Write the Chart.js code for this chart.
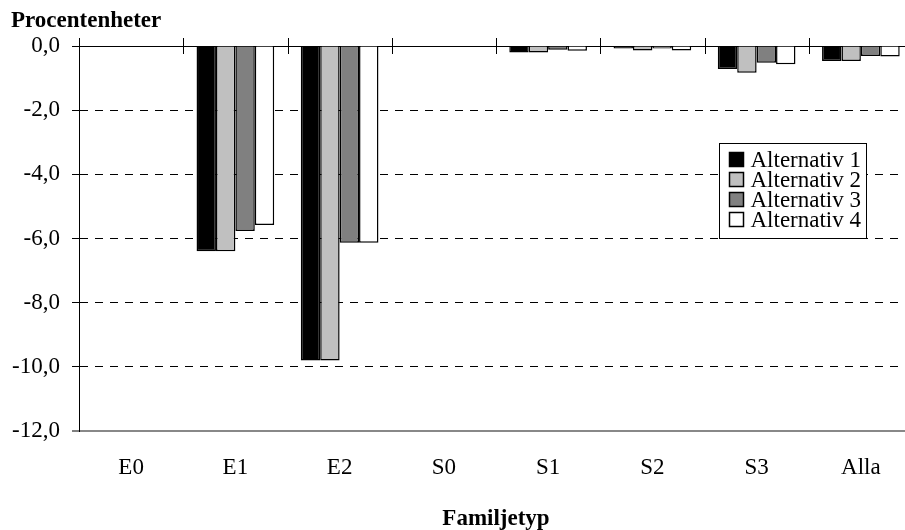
<!DOCTYPE html>
<html>
<head>
<meta charset="utf-8">
<script src="https://cdn.jsdelivr.net/npm/chart.js@4"></script>
<style>
  html, body { margin: 0; padding: 0; background: #fff; overflow: hidden; }
  #wrap { width: 913px; height: 530px; }
</style>
</head>
<body>
<div id="wrap"><canvas id="barChart"></canvas></div>
<script>
// familjetyper och värden (procentenheter)
var labels = ['E0', 'E1', 'E2', 'S0', 'S1', 'S2', 'S3', 'Alla'];
var seriesNames = ['Alternativ 1', 'Alternativ 2', 'Alternativ 3', 'Alternativ 4'];
var alt1 = [0, -6.4, -9.8, 0, -0.2, -0.08, -0.72, -0.47];
var alt2 = [0, -6.4, -9.8, 0, -0.2, -0.14, -0.83, -0.47];
var alt3 = [0, -5.77, -6.13, 0, -0.12, -0.08, -0.52, -0.31];
var alt4 = [0, -5.58, -6.13, 0, -0.15, -0.14, -0.57, -0.33];
var colors = ['#000000', '#c0c0c0', '#808080', '#ffffff'];

var serif = 'Liberation Serif';

// korta streck som korsar nollinjen mellan kategorierna
var crossTicks = {
    id: 'crossTicks',
    afterDraw: function(chart) {
        var x = chart.scales.x, y = chart.scales.y;
        var y0 = y.getPixelForValue(0);
        var ctx = chart.ctx;
        ctx.save();
        ctx.strokeStyle = '#000';
        ctx.lineWidth = 1;
        for (var i = 0; i < labels.length; i++) {
            var px = i === 0 ? x.left : (x.getPixelForValue(i - 1) + x.getPixelForValue(i)) / 2;
            px = Math.round(px) + 0.5;
            ctx.beginPath();
            ctx.moveTo(px, y0 - 8);
            ctx.lineTo(px, y0 + 8);
            ctx.stroke();
        }
        ctx.restore();
    }
};

// legend inne i diagrammet
var boxLegend = {
    id: 'boxLegend',
    afterDraw: function(chart) {
        var ctx = chart.ctx;
        var a = chart.chartArea;
        var bx = a.left + 640.5, by = a.top + 97.5, bw = 147, bh = 95;
        ctx.save();
        ctx.fillStyle = '#fff';
        ctx.fillRect(bx, by, bw, bh);
        ctx.strokeStyle = '#000';
        ctx.lineWidth = 1;
        ctx.strokeRect(bx, by, bw, bh);
        ctx.font = '23px "' + serif + '"';
        ctx.textBaseline = 'middle';
        ctx.fillStyle = '#000';
        chart.data.datasets.forEach(function(ds, i) {
            var cy = by + 16 + i * 20;
            ctx.fillStyle = ds.backgroundColor;
            ctx.fillRect(bx + 10, cy - 7, 14, 14);
            ctx.lineWidth = 1.5;
            ctx.strokeRect(bx + 10, cy - 7, 14, 14);
            ctx.fillStyle = '#000';
            ctx.fillText(ds.label, bx + 31, cy + 1);
        });
        ctx.restore();
    }
};

function makeSet(name, data, color) {
    return {
        label: name,
        data: data,
        backgroundColor: color,
        borderColor: '#000',
        borderWidth: 1.5,
        categoryPercentage: 0.745,
        barPercentage: 1
    };
}

var ctx = document.getElementById('barChart').getContext('2d');
var barChart = new Chart(ctx, {
    type: 'bar',
    data: {
        labels: labels,
        datasets: [
            makeSet(seriesNames[0], alt1, colors[0]),
            makeSet(seriesNames[1], alt2, colors[1]),
            makeSet(seriesNames[2], alt3, colors[2]),
            makeSet(seriesNames[3], alt4, colors[3])
        ]
    },
    options: {
        responsive: true,
        maintainAspectRatio: false,
        animation: false,
        layout: { padding: { left: 11, right: 0, top: 0, bottom: 0 } },
        plugins: {
            legend: { display: false },
            tooltip: { enabled: false },
            title: {
                display: true,
                text: 'Procentenheter',
                align: 'start',
                color: '#000',
                font: { family: serif, size: 23, weight: 'bold' },
                padding: { top: 7, bottom: 11.4 }
            }
        },
        scales: {
            x: {
                position: 'bottom',
                grid: { display: false, drawTicks: false },
                border: { display: false },
                ticks: {
                    color: '#000',
                    font: { family: serif, size: 23 },
                    padding: 23,
                    maxRotation: 0
                },
                title: {
                    display: true,
                    text: 'Familjetyp',
                    color: '#000',
                    font: { family: serif, size: 23, weight: 'bold' },
                    padding: { top: 0, bottom: -3 }
                },
                afterFit: function(s) { s.height = 99; }
            },
            y: {
                min: -12,
                max: 0,
                grid: {
                    color: function(c) { return c.tick && c.tick.value === -12 ? '#888' : '#000'; },
                    lineWidth: function(c) { return c.tick && c.tick.value === -12 ? 2 : 1; },
                    tickLength: 7,
                    tickColor: '#000',
                    tickWidth: 1
                },
                border: {
                    display: true,
                    color: '#000',
                    width: 1,
                    dash: function(c) {
                        if (!c.tick || c.tick.value === 0 || c.tick.value === -12) return [];
                        return [8, 7];
                    }
                },
                ticks: {
                    stepSize: 2,
                    color: '#000',
                    padding: 12,
                    font: { family: serif, size: 23 },
                    callback: function(v) { return v.toFixed(1).replace('.', ','); }
                },
                afterFit: function(s) { s.width = 68; }
            }
        }
    },
    plugins: [crossTicks, boxLegend]
});
</script>
</body>
</html>
